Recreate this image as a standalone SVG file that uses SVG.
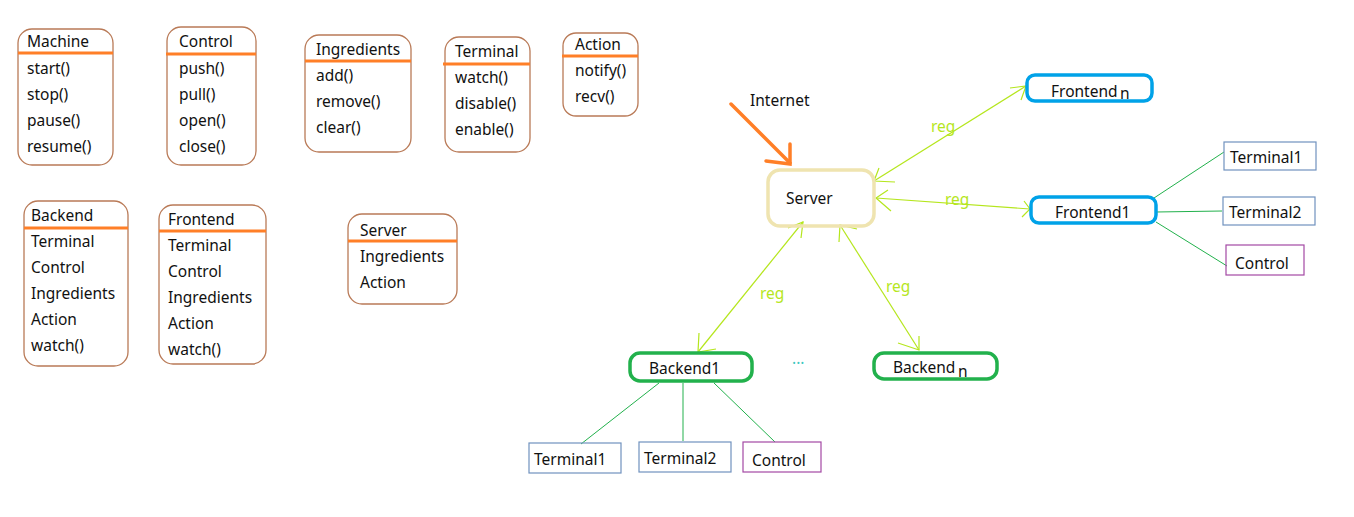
<svg xmlns="http://www.w3.org/2000/svg" width="1354" height="517" viewBox="0 0 1354 517">
<style>
text{font-family:"Noto Sans","Open Sans","DejaVu Sans",sans-serif;font-size:15.5px;fill:#111}
.cls{fill:none;stroke:#b97a57;stroke-width:1.3}
.hd{stroke:#ff7f27;stroke-width:3}
.reg{stroke:#b5e61d;stroke-width:1.2;fill:none}
.regt{fill:#b5e61d}
.fe{fill:none;stroke:#00a2e8;stroke-width:3.5}
.be{fill:none;stroke:#22b14c;stroke-width:3.5}
.term{fill:none;stroke:#7092be;stroke-width:1.2}
.ctl{fill:none;stroke:#a349a4;stroke-width:1.2}
.gl{stroke:#22b14c;stroke-width:1}
</style>
<rect width="1354" height="517" fill="#fff"/>

<g id="machine">
<rect class="cls" x="18" y="29" width="95" height="136" rx="14"/>
<line class="hd" x1="18" y1="53" x2="113" y2="53"/>
<text x="27" y="47">Machine</text>
<text x="27" y="74">start()</text>
<text x="27" y="100">stop()</text>
<text x="27" y="126">pause()</text>
<text x="27" y="152">resume()</text>
</g>
<g id="control">
<rect class="cls" x="167" y="27" width="89" height="138" rx="14"/>
<line class="hd" x1="166" y1="54" x2="256" y2="54"/>
<text x="179" y="47">Control</text>
<text x="179" y="74">push()</text>
<text x="179" y="100">pull()</text>
<text x="179" y="126">open()</text>
<text x="179" y="152">close()</text>
</g>
<g id="ingredients">
<rect class="cls" x="305" y="35" width="106" height="117" rx="14"/>
<line class="hd" x1="305" y1="61" x2="411" y2="61"/>
<text x="316" y="55">Ingredients</text>
<text x="316" y="81">add()</text>
<text x="316" y="107">remove()</text>
<text x="316" y="133">clear()</text>
</g>
<g id="terminal">
<rect class="cls" x="445" y="37" width="85" height="115" rx="14"/>
<line class="hd" x1="443" y1="64" x2="530" y2="64"/>
<text x="455" y="57">Terminal</text>
<text x="455" y="83">watch()</text>
<text x="455" y="109">disable()</text>
<text x="455" y="135">enable()</text>
</g>
<g id="action">
<rect class="cls" x="563" y="33" width="75" height="83" rx="13"/>
<line class="hd" x1="562" y1="56" x2="638" y2="56"/>
<text x="575" y="50">Action</text>
<text x="575" y="76">notify()</text>
<text x="575" y="102">recv()</text>
</g>
<g id="backend-class">
<rect class="cls" x="24" y="201" width="104" height="165" rx="14"/>
<line class="hd" x1="24" y1="228" x2="128" y2="228"/>
<text x="31" y="221">Backend</text>
<text x="31" y="247">Terminal</text>
<text x="31" y="273">Control</text>
<text x="31" y="299">Ingredients</text>
<text x="31" y="325">Action</text>
<text x="31" y="351">watch()</text>
</g>
<g id="frontend-class">
<rect class="cls" x="159" y="205" width="107" height="159" rx="14"/>
<line class="hd" x1="159" y1="231" x2="266" y2="231"/>
<text x="168" y="225">Frontend</text>
<text x="168" y="251">Terminal</text>
<text x="168" y="277">Control</text>
<text x="168" y="303">Ingredients</text>
<text x="168" y="329">Action</text>
<text x="168" y="355">watch()</text>
</g>
<g id="server-class">
<rect class="cls" x="348" y="214" width="109" height="90" rx="14"/>
<line class="hd" x1="348" y1="241" x2="457" y2="241"/>
<text x="360" y="236">Server</text>
<text x="360" y="262">Ingredients</text>
<text x="360" y="288">Action</text>
</g>

<g id="connectors">
<g id="internet-arrow" stroke="#ff7f27" stroke-width="3.5" fill="none" stroke-linecap="round">
<line x1="731" y1="104" x2="790" y2="163"/>
<polyline points="790,144 790,164 766,161"/>
</g>
<g class="reg">
<line x1="874" y1="181" x2="1026" y2="86"/>
<polyline points="1010,88 1026,86 1021,100"/>
<polyline points="879,168 874,181 895,182"/>
<line x1="876" y1="198" x2="1030" y2="209"/>
<polyline points="888,190 876,198 891,211"/>
<polyline points="1024,201 1030,209 1022,217"/>
<line x1="803" y1="222" x2="698" y2="352"/>
<polyline points="788,228 803,222 801,238"/>
<polyline points="699,333 698,352 716,349"/>
<line x1="840" y1="225" x2="919" y2="350"/>
<polyline points="839,242 840,225 857,229"/>
<polyline points="919,336 919,350 898,343"/>
</g>
<g class="gl">
<line x1="1154" y1="198" x2="1224" y2="152"/>
<line x1="1156" y1="212" x2="1222" y2="211"/>
<line x1="1156" y1="222" x2="1227" y2="266"/>
<line x1="659" y1="383" x2="581" y2="444"/>
<line x1="683" y1="383" x2="683" y2="441"/>
<line x1="714" y1="383" x2="775" y2="442"/>
</g>
<text class="regt" x="931" y="132">reg</text>
<text class="regt" x="945" y="205">reg</text>
<text class="regt" x="760" y="299">reg</text>
<text class="regt" x="886" y="292">reg</text>
</g>

<text x="750" y="106" font-size="14.5">Internet</text>

<g id="server">
<rect x="768" y="170" width="106" height="56" rx="12" fill="none" stroke="#efe4b0" stroke-width="3.5"/>
<text x="786" y="204">Server</text>
</g>
<g id="frontend-n">
<rect class="fe" x="1027" y="75" width="125" height="26" rx="8"/>
<text x="1051" y="97">Frontend</text>
<text x="1120" y="99">n</text>
</g>
<g id="frontend1">
<rect class="fe" x="1031" y="197" width="125" height="26" rx="8"/>
<text x="1055" y="218">Frontend1</text>
</g>
<g id="f-terminal1">
<rect class="term" x="1224" y="142" width="92" height="28"/>
<text x="1230" y="163">Terminal1</text>
</g>
<g id="f-terminal2">
<rect class="term" x="1223" y="197" width="92" height="28"/>
<text x="1229" y="218">Terminal2</text>
</g>
<g id="f-control">
<rect class="ctl" x="1226" y="245" width="78" height="30"/>
<text x="1235" y="269">Control</text>
</g>
<g id="backend1">
<rect class="be" x="630" y="353" width="122" height="28" rx="10"/>
<text x="649" y="374">Backend1</text>
</g>
<g id="backend-n">
<rect class="be" x="874" y="353" width="123" height="26" rx="10"/>
<text x="893" y="373">Backend</text>
<text x="958" y="377">n</text>
</g>
<text x="792" y="364" font-size="12" style="fill:#3cc8c0">...</text>
<g id="b-terminal1">
<rect class="term" x="529" y="443" width="92" height="30"/>
<text x="534" y="465">Terminal1</text>
</g>
<g id="b-terminal2">
<rect class="term" x="639" y="442" width="92" height="30"/>
<text x="644" y="464">Terminal2</text>
</g>
<g id="b-control">
<rect class="ctl" x="743" y="442" width="78" height="30"/>
<text x="752" y="466">Control</text>
</g>
</svg>
